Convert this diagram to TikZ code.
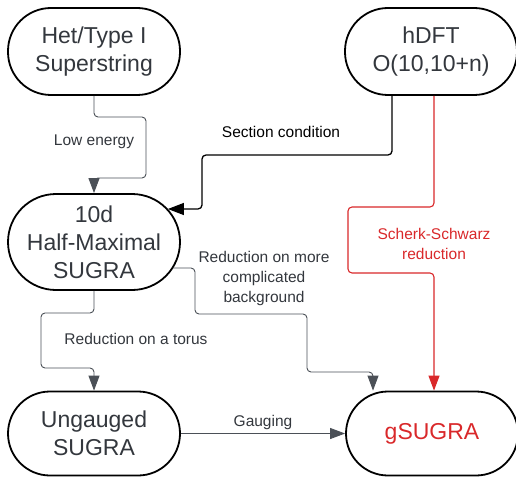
\documentclass[tikz,border=0pt]{standalone}
\usepackage{fontspec}
\setmainfont{Liberation Sans}
\usetikzlibrary{arrows.meta,calc}
\definecolor{ink}{HTML}{33373D}
\definecolor{wirec}{HTML}{4B5057}
\definecolor{sred}{HTML}{D9282A}
\begin{document}
\begin{tikzpicture}[x=1pt,y=-1pt,
  stage/.style={draw=black, line width=1.8pt, minimum width=172pt, inner sep=0pt,
    align=center, text=ink, font=\fontsize{23}{28}\selectfont},
  wire/.style={draw=wirec, line width=0.9pt, rounded corners=4pt,
    -{Triangle[length=15pt,width=11pt]}},
  tag/.style={text=ink, font=\fontsize{15.5}{20}\selectfont, align=center, inner sep=0pt},
]
\useasboundingbox (0,0) rectangle (516,476);

% theories
\node[stage, minimum height=87pt, rounded corners=43pt] (het) at (94,51.5) {Het/Type I\\Superstring};
\node[stage, minimum height=87pt, rounded corners=43pt] (hdft) at (431,51.5) {hDFT\\O(10,10+n)};
\node[stage, minimum height=96pt, rounded corners=48pt] (sugra10) at (94,242) {10d\\Half-Maximal\\SUGRA};
\node[stage, minimum height=84pt, rounded corners=42pt] (ungauged) at (94,433.5) {Ungauged\\SUGRA};
\node[stage, minimum height=84pt, rounded corners=42pt, text=sred] (gsugra) at (432,433.5) {gSUGRA};

% edge labels
\node[tag] (lowlbl) at (94,142) {Low energy};
\node[tag, text=black] (seclbl) at (281,132) {Section condition};
\node[tag] (bglbl) at (264,278) {Reduction on more\\complicated\\background};
\node[tag] (toruslbl) at (136,339) {Reduction on a torus};
\node[tag, text=sred] (sslbl) at (434,244) {Scherk-Schwarz\\reduction};
\node[tag] (gaugelbl) at (263,422) {Gauging};

% connectors
\draw[wire] (het.south) -- (94,117) -- (146,117) -- (146,178) -- (94,178) -- (sugra10.north);
\draw[wire, draw=black, line width=1.3pt, -{Triangle[length=16pt,width=12pt]}]
  (392,0 |- hdft.south) -- (392,155) -- (202,155) -- (202,209) -- ($(sugra10.east)+(-13,-33)$);
\draw[wire] (sugra10.south) -- (94,313) -- (41,313) -- (41,368) -- (94,368) -- (ungauged.north);
\draw[wire] ($(sugra10.east)+(-8,26)$) -- (195,268) -- (195,314) -- (307,314) -- (307,372)
  -- (373,372) -- (373,0 |- gsugra.north);
\draw[wire, draw=sred, line width=1.1pt, {-{Triangle[length=15pt,width=11pt,fill=sred]}}]
  (434,0 |- hdft.south) -- (434,207) -- (348,207) -- (348,273) -- (434,273) -- (434,0 |- gsugra.north);
\draw[wire] (ungauged.east) -- (gsugra.west);
\end{tikzpicture}
\end{document}
